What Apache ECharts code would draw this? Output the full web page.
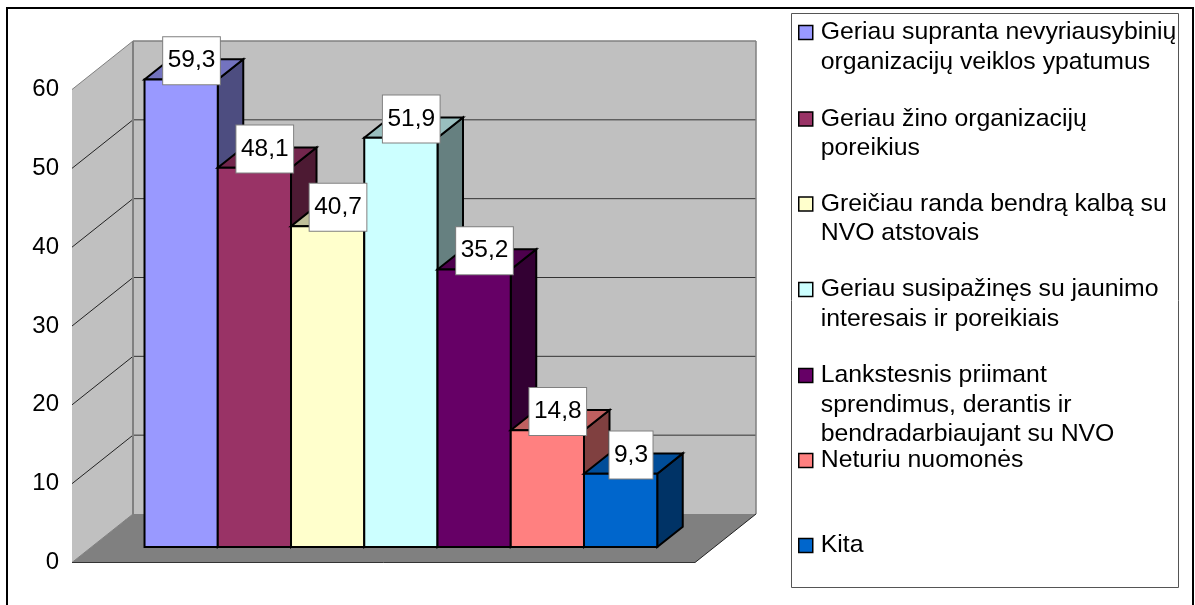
<!DOCTYPE html>
<html><head><meta charset="utf-8">
<style>html,body{margin:0;padding:0;background:#fff}#c{width:1195px;height:605px}</style>
<script src="https://cdn.jsdelivr.net/npm/echarts@6/dist/echarts.min.js"></script>
</head><body><div id="c"></div>
<script>
const categories = [
  ["Geriau supranta nevyriausybinių","organizacijų veiklos ypatumus"],
  ["Geriau žino organizacijų","poreikius"],
  ["Greičiau randa bendrą kalbą su","NVO atstovais"],
  ["Geriau susipažinęs su jaunimo","interesais ir poreikiais"],
  ["Lankstesnis priimant","sprendimus, derantis ir","bendradarbiaujant su NVO"],
  ["Neturiu nuomonės"],
  ["Kita"]
];
const values = [59.3, 48.1, 40.7, 51.9, 35.2, 14.8, 9.3];
const valueLabels = ["59,3","48,1","40,7","51,9","35,2","14,8","9,3"];
const colors = ["#9999FF","#993366","#FFFFCC","#CCFFFF","#660066","#FF8080","#0066CC"];
const yTicks = [0,10,20,30,40,50,60];
// presentation constants
const legendIconCentres = [32.5,119,204,289.5,375.5,460.5,545.5];
const LH = 29.5, DX = 61, DY = 48.5;
const BAR_F = 0.32, BAR_B = 0.738;
const xMin = -0.7236, xMax = 7.782;

function shade(hex,f){
  const n=parseInt(hex.slice(1),16);
  return 'rgb('+[(n>>16)&255,(n>>8)&255,n&255].map(v=>Math.round(v*f)).join(',')+')';
}
function proj(api,x,y,frac){
  const p=api.coord([x,y]);
  return [p[0]+DX*frac,p[1]-DY*frac];
}
function wallsItem(params,api){
  const kids=[];
  const poly=(pts,fill,stroke,w)=>kids.push({type:'polygon',shape:{points:pts},style:{fill:fill,stroke:stroke||null,lineWidth:w||0}});
  const line=(a,b,stroke,w)=>kids.push({type:'line',shape:{x1:a[0],y1:a[1],x2:b[0],y2:b[1]},style:{stroke:stroke,lineWidth:w}});
  const top=yTicks[yTicks.length-1];
  poly([proj(api,xMin,0,1),proj(api,xMax,0,1),proj(api,xMax,top,1),proj(api,xMin,top,1)],'#C0C0C0');
  poly([proj(api,xMin,0,0),proj(api,xMin,0,1),proj(api,xMin,top,1),proj(api,xMin,top,0)],'#C0C0C0');
  poly([proj(api,xMin,0,0),proj(api,xMax,0,0),proj(api,xMax,0,1),proj(api,xMin,0,1)],'#808080');
  yTicks.slice(1).forEach(t=>{
    const isTop=t===top;
    line(proj(api,xMin,t,0),proj(api,xMin,t,1),isTop?'#808080':'#222',1);
    line(proj(api,xMin,t,1),proj(api,xMax,t,1),isTop?'#808080':'#333',isTop?1.5:1);
  });
  line(proj(api,xMin,0,1),proj(api,xMin,top,1),'#808080',2);
  line(proj(api,xMax,0,1),proj(api,xMax,top,1),'#808080',1.5);
  line(proj(api,xMin,0,0),proj(api,xMin,0,1),'#808080',1);
  line(proj(api,xMax,0,0),proj(api,xMax,0,1),'#222',1);
  line(proj(api,xMin,0,0),proj(api,xMax,0,0),'#333',1);
  return {type:'group',children:kids};
}
function barItem(i){
  return function(params,api){
    const x0=api.value(0), v=api.value(1), x1=x0+1;
    const st=(fill)=>({fill:fill,stroke:'#000',lineWidth:2,lineJoin:'miter'});
    const a=proj(api,x0,0,BAR_F), b=proj(api,x1,0,BAR_F), c=proj(api,x1,v,BAR_F), d=proj(api,x0,v,BAR_F);
    const e=proj(api,x1,0,BAR_B), f=proj(api,x1,v,BAR_B), g=proj(api,x0,v,BAR_B);
    const lx=d[0]+47, ly=g[1]+1.5;
    return {type:'group',children:[
      {type:'polygon',shape:{points:[b,e,f,c]},style:st(shade(colors[i],0.5))},
      {type:'polygon',shape:{points:[d,c,f,g]},style:st(shade(colors[i],0.75))},
      {type:'polygon',shape:{points:[a,b,c,d]},style:st(colors[i])},
      {type:'text',z2:100,style:{text:valueLabels[i],x:lx,y:ly,fill:'#000',
        font:'24.5px "Liberation Sans", Arial, sans-serif',align:'center',verticalAlign:'middle',
        lineHeight:28,backgroundColor:'#fff',borderColor:'#808080',borderWidth:1,padding:[10,4.5,9,4.5]}}
    ]};
  };
}
const names=categories.map(c=>c.join(' '));
const series=[{type:'custom',name:'walls',silent:true,coordinateSystem:'cartesian2d',
  data:[[0,0]],renderItem:wallsItem,clip:false,animation:false,z:1}];
values.forEach((v,i)=>series.push({type:'custom',name:names[i],coordinateSystem:'cartesian2d',
  data:[[i,v]],encode:{x:0,y:1},renderItem:barItem(i),clip:false,animation:false,z:2,
  itemStyle:{color:colors[i]}}));
const legends=categories.map((lines,i)=>{
  const n=lines.length;
  return {show:true,orient:'vertical',selectedMode:false,padding:0,left:798,
    top:legendIconCentres[i]-(2*n-1)*LH/2,
    itemWidth:14,itemHeight:14,data:[names[i]],icon:'rect',
    itemStyle:{borderColor:'#000',borderWidth:1.5},
    formatter:()=>Array(n-1).fill('').concat(lines).join('\n'),
    textStyle:{fontFamily:'"Liberation Sans", Arial, sans-serif',fontSize:24.8,color:'#000',lineHeight:LH,padding:[0,0,0,3]}};
});
const chart=echarts.init(document.getElementById('c'),null,{renderer:'canvas'});
chart.setOption({
  animation:false,
  backgroundColor:'#fff',
  graphic:[
    {type:'rect',z:-1,shape:{x:7,y:8,width:1186,height:640},style:{fill:'#fff',stroke:'#000',lineWidth:2}},
    {type:'rect',z:-1,shape:{x:791.5,y:13.5,width:387,height:574},style:{fill:'#fff',stroke:'#555',lineWidth:1}}
  ],
  grid:{left:72,top:89.5,width:623,height:473},
  xAxis:{type:'value',min:xMin,max:xMax,show:false},
  yAxis:{type:'value',min:0,max:60,interval:10,
    axisLine:{show:true,lineStyle:{color:'#666',width:1}},
    axisTick:{show:true,length:9,lineStyle:{color:'#808080',width:1}},
    splitLine:{show:false},
    axisLabel:{margin:13,color:'#000',fontSize:24,padding:[4,0,0,0],fontFamily:'"Liberation Sans", Arial, sans-serif'}},
  legend:legends,
  tooltip:{show:false},
  series:series
});
</script></body></html>
